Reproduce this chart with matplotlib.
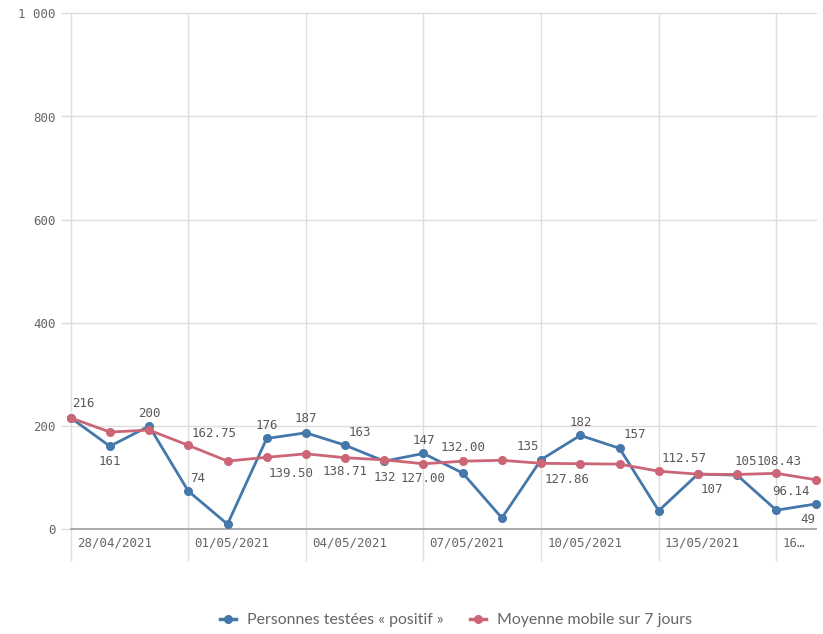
import matplotlib
matplotlib.use("Agg")
import matplotlib.pyplot as plt
from matplotlib.lines import Line2D
import matplotlib.transforms as mtransforms

# ---- data ----
dates = ["28/04/2021", "29/04/2021", "30/04/2021", "01/05/2021", "02/05/2021",
         "03/05/2021", "04/05/2021", "05/05/2021", "06/05/2021", "07/05/2021",
         "08/05/2021", "09/05/2021", "10/05/2021", "11/05/2021", "12/05/2021",
         "13/05/2021", "14/05/2021", "15/05/2021", "16/05/2021", "17/05/2021"]
positifs = [216, 161, 200, 74, 10, 176, 187, 163, 132, 147,
            109, 22, 135, 182, 157, 36, 107, 105, 37, 49]
moyenne = [216.00, 188.50, 192.33, 162.75, 132.20, 139.50, 146.29, 138.71, 134.57, 127.00,
           132.00, 133.71, 127.86, 127.14, 126.29, 112.57, 106.86, 106.29, 108.43, 96.14]
tick_labels = ["28/04/2021", "01/05/2021", "04/05/2021", "07/05/2021",
               "10/05/2021", "13/05/2021", "16…"]
y_ticks = [0, 200, 400, 600, 800, 1000]
y_tick_labels = ["0", "200", "400", "600", "800", "1 000"]
series_names = ["Personnes testées « positif »", "Moyenne mobile sur 7 jours"]

# label placement (index -> ha, dx px, dy px)
blue_labels = {0: ("left", 1, 14), 1: ("center", 0, -15), 2: ("center", 0, 13),
               3: ("left", 2, 13), 5: ("center", 0, 13), 6: ("center", 0, 14),
               7: ("left", 3, 13), 8: ("center", 0, -16), 9: ("center", 0, 13),
               12: ("right", -2, 13), 13: ("center", 0, 13), 14: ("left", 4, 14),
               16: ("left", 3, -15), 17: ("left", -3, 14), 19: ("right", 0, -15)}
red_labels = {3: ("left", 3, 12), 5: ("left", 2, -16), 7: ("center", 0, -14),
              9: ("center", 0, -15), 10: ("center", 0, 14), 12: ("left", 3, -16),
              15: ("left", 3, 13), 18: ("center", 3, 12), 19: ("right", -6, -12)}

BLUE = "#4477aa"
RED = "#cc6677"
TXT = "#595959"
GRID = "#dddddd"
MONO = "DejaVu Sans Mono"
FS = 9.0

fig = plt.figure(figsize=(8.23, 6.34), dpi=100)
ax = fig.add_axes([70.7 / 823, 104.7 / 634, (815.5 - 70.7) / 823, (529.3 - 13.3) / 634])

x = list(range(len(dates)))
ax.plot(x, positifs, color=BLUE, lw=2.0, marker="o", ms=5.5, zorder=3, clip_on=False)
ax.plot(x, moyenne, color=RED, lw=2.0, marker="o", ms=5.5, zorder=4, clip_on=False)

ax.set_xlim(0, 19)
ax.set_ylim(0, 1000)

for s in ax.spines.values():
    s.set_visible(False)

# horizontal grid
for yv in y_ticks:
    if yv == 0:
        ax.axhline(yv, color="#aaaaaa", lw=1.4, zorder=2, clip_on=False)
    else:
        ax.axhline(yv, color=GRID, lw=1.0, zorder=1, clip_on=False)
ax.set_yticks(y_ticks)
ax.set_yticklabels(y_tick_labels, fontfamily=MONO, fontsize=FS, color="#666666")
ax.tick_params(axis="y", length=7.2, width=1, color=GRID, pad=3.6)

# vertical category grid lines extending below the axis
ax.set_xticks([])
tick_positions = list(range(0, 19, 3))
trans = mtransforms.blended_transform_factory(ax.transData, ax.transAxes)
below = 31 / 516
for xp, lab in zip(tick_positions, tick_labels):
    ax.add_line(Line2D([xp, xp], [-below, 1], transform=trans, color=GRID, lw=1.0,
                       zorder=0.5, clip_on=False))
    ax.annotate(lab, xy=(xp, 0), xycoords=trans, xytext=(6, -14), textcoords="offset pixels",
                ha="left", va="center", fontfamily=MONO, fontsize=FS, color="#666666")

# data labels
def put_labels(vals, specs, fmt):
    for i, (ha, dx, dy) in specs.items():
        ax.annotate(fmt(vals[i]), xy=(i, vals[i]), xytext=(dx, dy), textcoords="offset pixels",
                    ha=ha, va="center", fontfamily=MONO, fontsize=FS, color=TXT, zorder=5,
                    annotation_clip=False)

put_labels(positifs, blue_labels, lambda v: f"{v:d}")
put_labels(moyenne, red_labels, lambda v: f"{v:.2f}")

handles = [Line2D([], [], color=BLUE, lw=2.5, marker="o", ms=5.5),
           Line2D([], [], color=RED, lw=2.5, marker="o", ms=5.5)]
leg = fig.legend(handles, series_names, loc="center", bbox_to_anchor=(456 / 823, 14 / 634),
                 ncol=2, frameon=False, handlelength=1.0, handletextpad=0.7, columnspacing=1.7,
                 prop={"family": "Lato", "size": 11.4})
for t in leg.get_texts():
    t.set_color("#666666")

fig.savefig("out.png", dpi=100)
